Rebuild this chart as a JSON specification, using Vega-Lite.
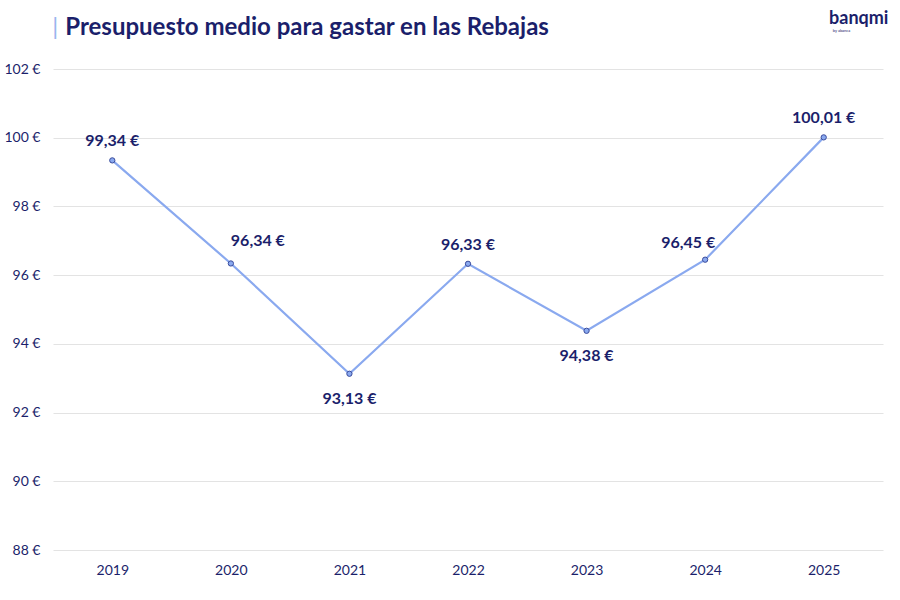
{
  "$schema": "https://vega.github.io/schema/vega-lite/v6.json",
  "width": 830,
  "height": 481,
  "autosize": {"type": "none"},
  "padding": {"left": 53, "top": 69, "right": 17, "bottom": 50},
  "background": "white",
  "config": {
    "locale": {"number": {"decimal": ",", "thousands": ".", "grouping": [3], "currency": ["", " €"]}},
    "view": {"stroke": null},
    "font": "Lato"
  },
  "data": {
    "values": [
      {"year": "2019", "value": 99.34},
      {"year": "2020", "value": 96.34},
      {"year": "2021", "value": 93.13},
      {"year": "2022", "value": 96.33},
      {"year": "2023", "value": 94.38},
      {"year": "2024", "value": 96.45},
      {"year": "2025", "value": 100.01}
    ]
  },
  "encoding": {
    "x": {
      "field": "year", "type": "ordinal",
      "scale": {"type": "point", "padding": 0.5},
      "axis": {"title": null, "labelAngle": 0, "ticks": false, "domain": false, "labelPadding": 13, "labelFontSize": 14, "labelColor": "#1b1f6b", "labelFont": "Lato"}
    },
    "y": {
      "field": "value", "type": "quantitative",
      "scale": {"domain": [88, 102], "nice": false, "zero": false},
      "axis": {"title": null, "values": [88, 90, 92, 94, 96, 98, 100, 102], "format": "$.0f", "ticks": false, "domain": false, "labelPadding": 13, "labelFontSize": 14, "labelColor": "#1b1f6b", "gridColor": "#e3e3e3", "labelFont": "Lato"}
    }
  },
  "layer": [
    {"mark": {"type": "line", "color": "#8aa9ef", "strokeWidth": 2.2}},
    {"mark": {"type": "point", "filled": true, "fill": "#8aa9ef", "stroke": "#3b4c9c", "strokeWidth": 1, "size": 28, "opacity": 1}},
    {
      "transform": [{"filter": "datum.year == '2019' || datum.year == '2022' || datum.year == '2025'"}],
      "mark": {"type": "text", "dy": -19, "fontSize": 16, "fontWeight": "bold", "color": "#1b1f6b"},
      "encoding": {"text": {"field": "value", "type": "quantitative", "format": "$.2f"}}
    },
    {
      "transform": [{"filter": "datum.year == '2020'"}],
      "mark": {"type": "text", "dy": -22, "dx": 27, "fontSize": 16, "fontWeight": "bold", "color": "#1b1f6b"},
      "encoding": {"text": {"field": "value", "type": "quantitative", "format": "$.2f"}}
    },
    {
      "transform": [{"filter": "datum.year == '2024'"}],
      "mark": {"type": "text", "dy": -17, "dx": -17, "fontSize": 16, "fontWeight": "bold", "color": "#1b1f6b"},
      "encoding": {"text": {"field": "value", "type": "quantitative", "format": "$.2f"}}
    },
    {
      "transform": [{"filter": "datum.year == '2021' || datum.year == '2023'"}],
      "mark": {"type": "text", "dy": 25, "fontSize": 16, "fontWeight": "bold", "color": "#1b1f6b"},
      "encoding": {"text": {"field": "value", "type": "quantitative", "format": "$.2f"}}
    },
    {
      "transform": [{"filter": "datum.year == '2019'"}],
      "mark": {"type": "text", "dx": -57, "fontSize": 24, "color": "#9ab4ee", "clip": false},
      "encoding": {"x": {"datum": "2019"}, "y": {"datum": 103.2}, "text": {"value": "|"}}
    },
    {
      "transform": [{"filter": "datum.year == '2019'"}],
      "mark": {"type": "text", "align": "left", "baseline": "middle", "dx": -47, "fontSize": 24, "fontWeight": "bold", "color": "#1b1f6b", "clip": false},
      "encoding": {"x": {"datum": "2019"}, "y": {"datum": 103.2}, "text": {"value": "Presupuesto medio para gastar en las Rebajas"}}
    },
    {
      "transform": [{"filter": "datum.year == '2025'"}],
      "mark": {"type": "text", "dx": 35, "fontSize": 18, "fontWeight": "bold", "color": "#1b1f6b", "clip": false},
      "encoding": {"x": {"datum": "2025"}, "y": {"datum": 103.45}, "text": {"value": "banqmi"}}
    },
    {
      "transform": [{"filter": "datum.year == '2025'"}],
      "mark": {"type": "text", "align": "left", "dx": 9, "fontSize": 4, "color": "#1b1f6b", "clip": false},
      "encoding": {"x": {"datum": "2025"}, "y": {"datum": 103.1}, "text": {"value": "by abanca"}}
    }
  ]
}
